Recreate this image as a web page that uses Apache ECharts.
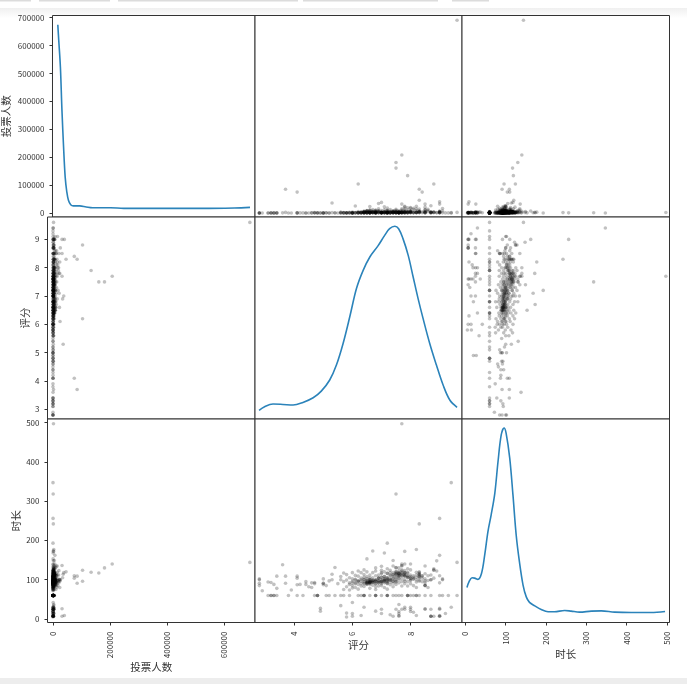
<!DOCTYPE html>
<html>
<head>
<meta charset="utf-8">
<title>scatter matrix</title>
<style>
  html, body { margin: 0; padding: 0; background: #fff; }
  #chart { width: 687px; height: 684px; }
</style>
<script src="https://cdn.jsdelivr.net/npm/echarts@6/dist/echarts.min.js"></script>
</head>
<body>
<div id="chart"></div>
<script>
// one entry per film, same order in all three arrays
const voteCounts = [
  691000,208000,181000,161000,134000,104000,104000,85000,85000,75000,
  75000,46000,40000,32000,36000,34000,32000,32000,38000,25000,
  23000,22000,18000,26000,16000,14000,21000,17000,12000,24000,
  2000,300,900,500,1500,300,1200,800,2500,3000,
  600,5000,7000,1500,
  300,150,420,900,260,510,120,640,380,1500,
  220,760,340,1100,180,670,2400,450,830,1300,
  290,3100,520,1800,610,240,4200,950,1700,350,
  2600,780,1400,560,3300,2000,5200,1150,430,2900,
  880,1600,700,3600,1250,490,310,2200,1050,3800,
  900,2100,400,1300,750,1800,350,2600,600,1100,
  1500,700,3200,480,950,2400,1700,560,1200,4100,
  3000,620,380,1900,840,210,1450,520,260,3400,
  1000,160,700,2300,430,300,1600,3800,850,410,
  120,300,90,150,260,110,70,180,240,130,
  510,2200,200,320,90,410,160,260,120,600,
  340,180,700,90,150,450,210,520,300,1300,
  110,200,90,240,400,1600,330,700,280,510,
  160,380,2500,90,620,210,480,300,850,1100,
  1400,260,5200,700,1900,340,420,3100,880,510,
  2700,230,1500,6400,990,380,3000,720,4500,1600,
  640,2100,8200,310,1250,3700,560,1800,9500,430,
  2900,1050,4300,680,7000,1500,3400,290,820,5800,
  1700,460,2600,10500,930,3900,610,1350,6600,2000,
  720,4800,1100,3000,8700,360,1600,5400,2300,11500,
  840,3500,1250,7400,530,2800,9800,1900,450,4300,
  1400,6200,760,3200,12500,1050,5000,2200,690,8000,
  3700,1500,560,10000,2500,4700,880,7200,1800,13500,
  3000,620,5600,1300,9000,2100,15000,760,4000,1600,
  6900,3300,11000,900,5200,2000,14000,1200,8400,3700,
  10500,1500,19000,4600,6500,2800,20000,1800,7800,12000,
  3300,17000,15000,9200,1400,24000,5900,2600,7000,4100,
  1200,11000,6100,1700,21000,2900,8500,4800,13000,3600,
  2300,1500,4400,2700,1100,5600,3900,7200,6300,1800,
  1200,3400,560,2100,7800,900,4300,1500,6100,2800,
  650,3100,1800,5200,420,2500,9000,1300,3700,700,
  6400,1100,4800,2200,8300,1600,3300,600,5600,2000,
  980,2700,470,3900,1400,6800,520,2300,4600,1050,
  3200,760,5100,1700,8800,2400,360,1200,2900,640,
  7200,1500,3600,830,5400,1900,4100,2600,1100,6000,
  2300,540,1600,3500,920,4900,700,2100,1300,3000,
  5800,1800,8900,10500,12000,6400,15000,1000,640,410
];
const ratings = [
  9.6,7.7,7.5,7.5,7.9,8.8,6.2,3.7,8.3,4.1,
  8.4,8.3,9.0,9.0,5.3,6.9,7.7,8.5,7.0,6.1,
  6.6,7.1,7.2,8.7,9.1,8.3,7.8,8.0,8.5,7.8,
  7.7,9.4,7.5,9.0,8.3,7.2,6.7,7.1,7.8,8.2,
  6.5,7.4,9.0,8.9,
  3.1,3.2,3.3,3.2,3.3,3.4,3.8,4.1,4.3,4.7,
  4.8,4.8,4.8,5.1,5.2,5.4,5.6,5.7,5.9,6.2,
  6.3,6.4,6.4,6.4,6.6,6.8,6.8,6.8,7.0,7.2,
  7.2,7.2,7.4,7.5,7.6,7.7,7.9,7.9,7.9,8.2,
  8.2,8.3,8.5,8.7,9.0,9.1,9.3,9.6,8.1,8.0,
  9.0,9.0,9.2,9.4,8.7,8.7,8.7,8.7,8.5,8.2,
  8.1,8.0,8.0,7.8,7.8,7.6,7.6,7.6,7.7,7.5,
  7.6,7.4,7.3,7.0,7.0,6.8,6.3,6.4,6.0,6.0,
  6.0,5.8,5.8,5.6,4.9,4.9,8.8,9.0,8.0,7.6,
  2.8,2.8,2.8,2.8,2.9,3.1,3.2,3.3,3.4,3.4,
  3.6,3.7,3.9,4.1,4.1,4.2,4.4,4.4,4.5,4.6,
  4.6,4.7,4.7,5.0,5.0,5.0,5.0,5.1,5.2,5.3,
  5.4,5.5,5.6,5.6,5.7,5.7,5.7,5.8,5.8,5.8,
  5.9,5.9,5.9,6.0,6.0,6.0,6.0,6.0,6.1,6.1,
  6.1,6.1,6.2,6.2,6.2,6.2,6.2,6.3,6.3,6.3,
  6.3,6.3,6.4,6.4,6.4,6.4,6.4,6.4,6.4,6.5,
  6.5,6.5,6.5,6.5,6.6,6.6,6.6,6.6,6.6,6.6,
  6.7,6.7,6.7,6.7,6.7,6.7,6.8,6.8,6.8,6.8,
  6.8,6.8,6.8,6.8,6.9,6.9,6.9,6.9,6.9,7.0,
  7.0,7.0,7.0,7.0,7.0,7.0,7.0,7.1,7.1,7.1,
  7.1,7.1,7.1,7.2,7.2,7.2,7.2,7.2,7.2,7.2,
  7.3,7.3,7.3,7.3,7.3,7.3,7.4,7.4,7.4,7.4,
  7.4,7.4,7.4,7.5,7.5,7.5,7.5,7.5,7.5,7.5,
  7.6,7.6,7.6,7.6,7.6,7.6,7.7,7.7,7.7,7.7,
  7.7,7.7,7.7,7.8,7.8,7.8,7.8,7.8,7.8,7.9,
  7.9,7.9,7.9,7.9,8.0,8.0,8.0,8.0,8.0,8.1,
  8.1,8.1,8.2,8.2,8.2,8.2,8.3,8.3,8.3,8.4,
  8.4,8.5,8.5,8.5,8.5,8.5,8.6,8.6,8.6,8.7,
  8.7,8.8,8.8,8.8,8.9,9.0,9.0,9.1,6.5,7.6,
  6.5,6.6,6.6,6.5,6.6,8.5,8.5,8.3,8.3,7.8,
  6.6,6.7,6.8,6.9,7.0,7.1,7.2,7.3,7.4,7.5,
  6.5,6.6,6.7,6.8,6.9,7.0,7.1,7.2,7.3,7.4,
  7.5,7.6,7.7,7.8,7.9,8.0,8.1,8.2,8.3,7.6,
  6.4,6.5,6.6,6.7,6.8,6.9,7.0,7.1,7.2,7.3,
  7.4,7.5,7.6,7.7,7.8,7.9,8.0,6.3,6.2,6.4,
  7.5,7.6,7.7,7.5,7.6,7.7,7.6,7.4,7.3,7.2,
  6.5,6.6,6.5,6.6,6.7,6.8,6.9,7.0,7.1,7.2,
  8.0,7.9,7.8,8.2,8.1,8.3,8.4,6.1,6.0,5.9
];
const runtimes = [
  144,140,130,117,119,124,96,91,109,104,
  110,120,9,7,114,105,136,26,118,99,
  100,101,98,100,102,112,123,98,97,96,
  497,347,318,256,242,193,173,168,172,177,
  153,149,162,148,
  60,60,60,60,60,60,60,60,60,60,
  60,60,60,60,60,60,60,60,60,60,
  60,60,60,60,60,60,60,60,60,60,
  60,60,60,60,60,60,60,60,60,60,
  60,60,60,60,60,60,60,60,60,60,
  7,25,14,30,7,7,7,25,25,9,
  17,25,30,30,25,7,14,19,25,25,
  37,7,11,14,25,20,9,30,7,14,
  42,5,15,34,20,27,7,27,19,9,
  102,85,91,100,72,94,93,88,78,109,
  138,109,74,109,87,88,95,88,82,80,
  92,93,90,102,91,91,87,85,97,100,
  131,90,108,100,95,117,75,113,99,82,
  105,92,74,118,102,96,85,79,111,101,
  92,80,122,109,98,88,76,118,104,96,
  90,84,125,113,106,100,95,92,83,120,
  108,97,95,90,112,101,96,96,88,78,
  118,105,98,96,93,86,130,122,110,100,
  95,90,82,75,112,103,98,92,84,134,
  124,115,106,100,96,90,85,120,108,102,
  97,92,80,128,116,105,100,97,90,76,
  124,112,103,100,94,87,135,118,108,101,
  96,91,82,131,120,112,104,99,95,88,
  130,122,114,108,100,92,135,125,117,110,
  103,95,84,140,118,115,110,100,90,128,
  116,105,95,84,140,125,112,100,90,110,
  102,85,119,106,94,80,118,105,96,109,
  95,135,115,102,92,85,110,98,80,112,
  100,128,125,104,122,110,92,100,99,104,
  93,93,92,94,94,85,86,115,114,118,
  99,97,96,95,97,100,102,98,96,95,
  92,94,93,99,96,95,97,94,100,104,
  107,110,112,108,106,104,102,100,99,115,
  101,103,105,100,98,104,106,108,105,110,
  112,114,116,118,113,110,108,100,95,90,
  120,118,122,115,116,112,110,114,118,116,
  90,91,88,92,94,90,92,93,95,91,
  104,108,110,112,106,108,104,90,92,88
];

// diagonal density curves, y in percent of the panel height
const voteCurveX = [100,3500,9400,15000,20800,26600,32500,38300,46500,56000,79000,102000,125000,190000,237000,342000,518000,635000,691000];
const voteCurveY = [95.4,87.6,74.4,52.9,34.7,19.8,12.4,8.3,6.1,5.5,5.5,5,4.6,4.6,4.3,4.3,4.3,4.5,4.8];
const ratingCurveX = [2.79,2.98,3.27,3.61,3.96,4.3,4.65,4.93,5.22,5.45,5.68,5.91,6.14,6.37,6.6,6.88,7.11,7.28,7.46,7.59,7.74,7.92,8.09,8.26,8.43,8.66,8.89,9.12,9.35,9.6];
const ratingCurveY = [4.3,6.1,7.4,7.2,6.9,8.2,10.5,13.8,19.3,26.7,37.4,50.6,64.6,73.6,80.2,85.7,90.9,94.2,95.4,94.2,89.3,81,70.3,59.6,49.8,37.4,26.7,16.8,9.4,5.8];
const runtimeCurveX = [4,9,16.5,23,31,40,48,56,64,73,81,89,96,101,110,118,126,134,143,151,159,172,188,205,221,246,262,283,312,337,370,411,460,495];
const runtimeCurveY = [17.2,20,22,21.8,21.2,24.1,33.2,44.7,52.9,63.5,79.1,92.3,95.6,93.1,80.8,62.7,43,29.9,18.4,12.6,9.9,8.2,6.4,5.3,5.3,5.9,5.6,5.1,5.6,5.7,5.1,4.9,4.9,5.4];

const voteTicksY = [0,100000,200000,300000,400000,500000,600000,700000];
const voteTicksX = [0,200000,400000,600000];
const ratingTicksY = [3,4,5,6,7,8,9];
const ratingTicksX = [4,6,8];
const runtimeTicks = [0,100,200,300,400,500];

const LABEL_FONT = '"Noto Sans CJK SC", sans-serif';
const INK = '#333';

const vars = [
  { name: '投票人数', values: voteCounts, min: -19000, max: 709000, yMin: -14300, yMax: 708000,
    ticksX: voteTicksX, ticksY: voteTicksY, curveX: voteCurveX, curveY: voteCurveY, nameGapX: 38, nameGapY: 41 },
  { name: '评分', values: ratings, min: 2.65, max: 9.77, yMin: 2.66, yMax: 9.79,
    ticksX: ratingTicksX, ticksY: ratingTicksY, curveX: ratingCurveX, curveY: ratingCurveY, nameGapX: 17, nameGapY: 17 },
  { name: '时长', values: runtimes, min: -8.3, max: 506, yMin: -8.9, yMax: 509,
    ticksX: runtimeTicks, ticksY: runtimeTicks, curveX: runtimeCurveX, curveY: runtimeCurveY, nameGapX: 24, nameGapY: 26 },
]

const colEdges = [47.5, 255, 462, 669.5]
const rowEdges = [15.5, 217, 419, 622.5]

function plainLabel(v) { return String(v) }

function valueAxis(gridIndex, v, side, showTicks) {
  const horizontal = side === 'bottom'
  const ticks = horizontal ? v.ticksX : v.ticksY
  const axis = {
    type: 'value',
    gridIndex,
    position: side,
    min: horizontal ? v.min : v.yMin,
    max: horizontal ? v.max : v.yMax,
    scale: true,
    splitLine: { show: false },
    // keep the ticks on the panel edge, not where the other axis crosses 0
    axisLine: { show: false, onZero: false },
    axisTick: { show: showTicks, length: 3, lineStyle: { color: INK, width: 1 }, customValues: ticks },
    axisLabel: {
      show: showTicks,
      customValues: ticks,
      formatter: plainLabel,
      rotate: horizontal ? 90 : 0,
      margin: horizontal ? 9 : 8,
      color: INK,
      fontFamily: LABEL_FONT,
      fontSize: 8,
    },
  }
  if (showTicks) {
    axis.name = v.name
    axis.nameLocation = 'middle'
    axis.nameGap = horizontal ? v.nameGapX : v.nameGapY
    axis.nameTextStyle = { color: INK, fontFamily: LABEL_FONT, fontSize: 10.5 }
  }
  return axis
}

function buildOption() {
  const grid = [], xAxis = [], yAxis = [], series = []

  vars.forEach((rowVar, r) => {
    vars.forEach((colVar, c) => {
      const g = grid.length
      grid.push({
        left: colEdges[c],
        top: rowEdges[r],
        width: colEdges[c + 1] - colEdges[c],
        height: rowEdges[r + 1] - rowEdges[r],
        show: true,
        borderColor: INK,
        borderWidth: 1,
        backgroundColor: '#fff',
      })
      xAxis.push(valueAxis(g, colVar, 'bottom', r === 2))
      yAxis.push(valueAxis(g, rowVar, 'left', c === 0))

      if (r === c) {
        // density has its own hidden scale on the same grid
        const densityAxis = yAxis.length
        yAxis.push({ type: 'value', gridIndex: g, min: 0, max: 100, show: false, splitLine: { show: false } })
        series.push({
          type: 'line',
          xAxisIndex: g,
          yAxisIndex: densityAxis,
          data: colVar.curveX.map((x, i) => [x, colVar.curveY[i]]),
          showSymbol: false,
          smooth: 0.35,
          lineStyle: { color: '#2b83ba', width: 1.6 },
          silent: true,
        })
      } else {
        series.push({
          type: 'scatter',
          xAxisIndex: g,
          yAxisIndex: yAxis.length - 1,
          data: colVar.values.map((x, i) => [x, rowVar.values[i]]),
          symbol: 'circle',
          symbolSize: 3.6,
          itemStyle: { color: 'rgba(0,0,0,0.3)' },
          silent: true,
        })
      }
    })
  })

  return {
    animation: false,
    backgroundColor: '#fff',
    grid,
    xAxis,
    yAxis,
    series,
    graphic: [
      // screenshot edges: tab strip on top, grey band at the bottom
      { type: 'rect', z: -1, shape: { x: 0, y: 8, width: 687, height: 10 },
        style: { fill: new echarts.graphic.LinearGradient(0, 0, 0, 1, [
          { offset: 0, color: '#f0f0f0' }, { offset: 1, color: '#ffffff' },
        ]) } },
      { type: 'rect', z: -1, shape: { x: 0, y: 0, width: 31, height: 1.5 }, style: { fill: '#dcdcdc' } },
      { type: 'rect', z: -1, shape: { x: 39, y: 0, width: 71, height: 1.5 }, style: { fill: '#dcdcdc' } },
      { type: 'rect', z: -1, shape: { x: 118, y: 0, width: 180, height: 1.5 }, style: { fill: '#dcdcdc' } },
      { type: 'rect', z: -1, shape: { x: 303, y: 0, width: 135, height: 1.5 }, style: { fill: '#dcdcdc' } },
      { type: 'rect', z: -1, shape: { x: 452, y: 0, width: 37, height: 1.5 }, style: { fill: '#dcdcdc' } },
      { type: 'rect', z: -1, shape: { x: 0, y: 678, width: 687, height: 6 }, style: { fill: '#ededed' } },
    ],
  }
}

const chart = echarts.init(document.getElementById('chart'), null, { renderer: 'canvas' })
chart.setOption(buildOption())
</script>
</body>
</html>
